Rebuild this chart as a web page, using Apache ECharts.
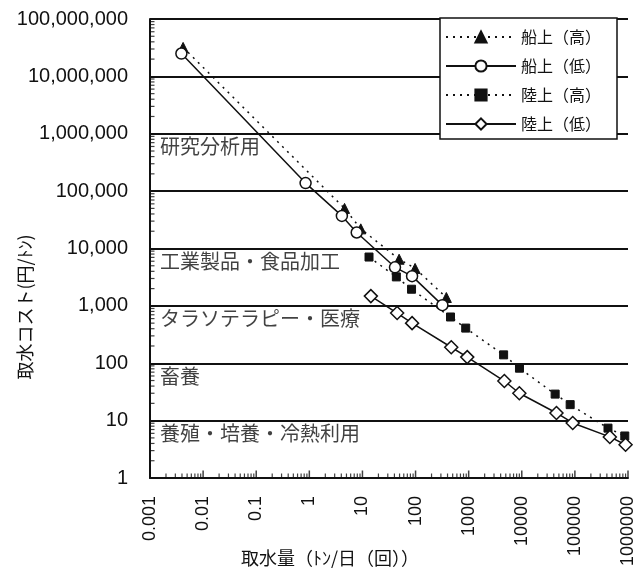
<!DOCTYPE html>
<html>
<head>
<meta charset="utf-8">
<script src="https://cdn.jsdelivr.net/npm/echarts@6/dist/echarts.min.js"></script>
<style>
html,body{margin:0;padding:0;background:#fff;}
#chart{width:641px;height:578px;}
</style>
</head>
<body>
<div id="chart"></div>
<script>
// ---- data ----
const seriesNames = ['船上（高）', '船上（低）', '陸上（高）', '陸上（低）'];

const shipHighX = [0.0042, 4.6, 9.3, 49, 98, 380];
const shipHighY = [32000000, 50000, 22000, 6500, 4500, 1400];

const shipLowX = [0.0039, 0.85, 4.1, 7.8, 41, 86, 320];
const shipLowY = [25000000, 138000, 37000, 19000, 4700, 3300, 1030];

const landHighX = [13.3, 43.5, 84, 455, 880, 4550, 9050, 42500, 81500, 420000, 870000];
const landHighY = [7100, 3200, 1950, 640, 410, 140, 82, 29, 19, 7.4, 5.4];

const landLowX = [14.4, 45, 86, 470, 940, 4700, 9000, 45000, 91000, 455000, 900000];
const landLowY = [1480, 750, 500, 190, 128, 49, 30, 13.6, 9.1, 5.2, 3.8];

const zoneNames = ['研究分析用', '工業製品・食品加工', 'タラソテラピー・医療', '畜養', '養殖・培養・冷熱利用'];
const zoneLevels = [1000000, 10000, 1000, 100, 10];

const xTickLabels = ['0.001', '0.01', '0.1', '1', '10', '100', '1000', '10000', '100000', '1000000'];
const yTickLabels = ['1', '10', '100', '1,000', '10,000', '100,000', '1,000,000', '10,000,000', '100,000,000'];
const minorMult = [2, 3, 4, 5, 6, 7, 8, 9];

const yTitle = '取水コスト(円/ﾄﾝ)';
const xTitle = '取水量（ﾄﾝ/日（回））';

// ---- build ----
const zip = (xs, ys) => xs.map((x, i) => [x, ys[i]]);
const JP = '"Noto Sans CJK JP", sans-serif';
const NUM = '"Liberation Sans", Arial, sans-serif';
const X_MIN = 0.001, X_MAX = 1000000, Y_MIN = 1, Y_MAX = 100000000;

const pick = (arr, i) => (i >= 0 && i < arr.length && arr[i] != null) ? String(arr[i]) : '';
const xFmt = v => { const n = Number(v); return n > 0 ? pick(xTickLabels, Math.round(Math.log10(n)) + 3) : ''; };
const yFmt = v => { const n = Number(v); return n > 0 ? pick(yTickLabels, Math.round(Math.log10(n))) : ''; };

// tick positions (axis decoration, placed by the axes' own scales)
const xMajorTicks = xTickLabels.map(t => [Number(t), Y_MIN]);
const xMinorTicks = [];
for (let e = -3; e < 6; e++) minorMult.forEach(m => xMinorTicks.push([m * Math.pow(10, e), Y_MIN]));
const yMinorTicks = [];
for (let e = 0; e < 8; e++) minorMult.forEach(m => yMinorTicks.push([X_MIN, m * Math.pow(10, e)]));

const chart = echarts.init(document.getElementById('chart'), null, {renderer: 'canvas'});

function lineSeries(name, xs, ys, symbol, size, dotted, filled) {
  return {
    type: 'line', name: name, data: zip(xs, ys), z: 3,
    symbol: symbol, symbolSize: size,
    lineStyle: {color: '#111', width: 1.5, type: dotted ? [2, 5] : 'solid'},
    itemStyle: {color: filled ? '#111' : '#fff', borderColor: '#111', borderWidth: filled ? 1 : 1.5}
  };
}
function tickSeries(name, data, size, offset) {
  return {
    type: 'scatter', name: name, data: data, silent: true, clip: false, z: 6,
    symbol: 'rect', symbolSize: size, symbolOffset: offset,
    itemStyle: {color: '#111'}, emphasis: {disabled: true}
  };
}

chart.setOption({
  animation: false,
  backgroundColor: '#fff',
  grid: {left: 150, right: 13, top: 19, bottom: 100, containLabel: false},
  xAxis: {
    type: 'log', logBase: 10, min: X_MIN, max: X_MAX, splitNumber: 9,
    axisLine: {show: true, lineStyle: {color: '#111', width: 2}},
    axisTick: {show: false},
    splitLine: {show: false},
    axisLabel: {rotate: 90, margin: 18, color: '#111', fontFamily: NUM, fontSize: 18, formatter: xFmt}
  },
  yAxis: {
    type: 'log', logBase: 10, min: Y_MIN, max: Y_MAX, splitNumber: 8,
    axisLine: {show: true, lineStyle: {color: '#111', width: 2}},
    axisTick: {show: false},
    splitLine: {show: true, lineStyle: {color: '#111', width: 1.8}},
    axisLabel: {margin: 22, color: '#111', fontFamily: NUM, fontSize: 20, formatter: yFmt}
  },
  legend: {
    data: seriesNames,
    orient: 'vertical', left: 440, top: 18,
    backgroundColor: '#fff', borderColor: '#111', borderWidth: 1.5,
    padding: [10, 16, 6, 5], itemGap: 11, itemWidth: 70, itemHeight: 14,
    textStyle: {fontFamily: JP, fontSize: 16, color: '#111', lineHeight: 18},
    itemTextGap: 8,
    selectedMode: false, z: 10
  },
  graphic: [
    {type: 'text', x: 25, y: 307, rotation: Math.PI / 2,
     style: {text: yTitle, font: '18px ' + JP, fill: '#111', align: 'center', verticalAlign: 'middle'}},
    {type: 'text', x: 330, y: 558,
     style: {text: xTitle, font: '18px ' + JP, fill: '#111', align: 'center', verticalAlign: 'middle'}}
  ],
  series: [
    lineSeries(seriesNames[0], shipHighX, shipHighY, 'triangle', 10, true, true),
    lineSeries(seriesNames[1], shipLowX, shipLowY, 'circle', 11, false, false),
    lineSeries(seriesNames[2], landHighX, landHighY, 'rect', 8, true, true),
    lineSeries(seriesNames[3], landLowX, landLowY, 'diamond', 13, false, false),
    {
      type: 'scatter', name: 'zones', silent: true, z: 4,
      data: zoneLevels.map((lv, i) => ({value: [X_MIN, lv], name: zoneNames[i]})),
      symbolSize: 0,
      label: {show: true, position: 'right', distance: 0, offset: [10, 13],
        formatter: p => String(p.name), fontFamily: JP, fontSize: 20, color: '#111'}
    },
    tickSeries('xMajorTicks', xMajorTicks, [1.5, 7], [0, -4]),
    tickSeries('xMinorTicks', xMinorTicks, [1.2, 4], [0, -2.5]),
    tickSeries('yMinorTicks', yMinorTicks, [4, 1.2], [2.5, 0])
  ]
});
</script>
</body>
</html>
